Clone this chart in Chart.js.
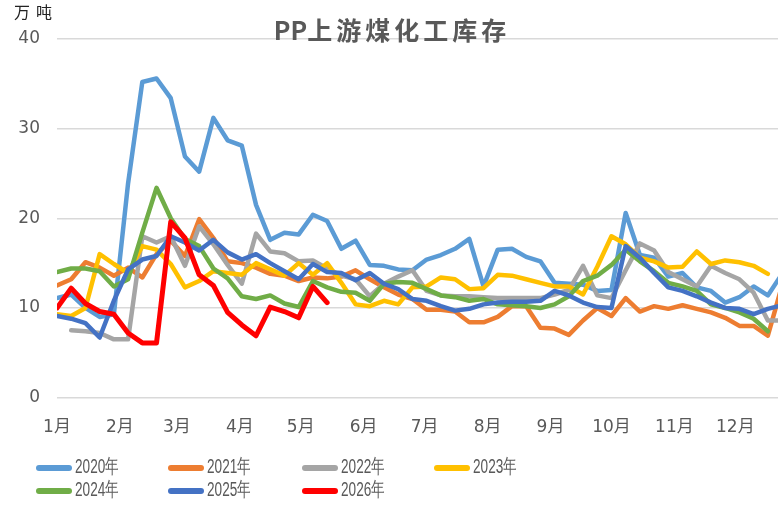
<!DOCTYPE html>
<html>
<head>
<meta charset="utf-8">
<script src="https://cdn.jsdelivr.net/npm/chart.js@4/dist/chart.umd.min.js"></script>
<style>
  html, body { margin: 0; padding: 0; background: #fff; overflow: hidden; }
  #wrap { position: relative; width: 778px; height: 505px; }
  #chart { position: absolute; left: 0; top: 0; }
  #unit { position: absolute; left: 14px; top: -1px; font: 16px "Noto Sans CJK SC", sans-serif; letter-spacing: 6px; color: #222; }
  #title { position: absolute; left: 0; width: 784px; top: 11px; text-align: center; font: bold 25px "Noto Sans CJK SC", sans-serif; color: #595959; }
  #title .cn { letter-spacing: 4px; }
  .lg { position: absolute; height: 20px; }
  .lg .swatch { position: absolute; left: 0; top: 8px; width: 36px; height: 6px; border-radius: 3px; }
  .lg .txt { position: absolute; left: 39px; top: -4px; font: 20px "Liberation Sans", sans-serif; color: #595959; transform: scaleX(0.68); transform-origin: left center; white-space: nowrap; }
</style>
</head>
<body>
<div id="wrap">
  <canvas id="chart" width="778" height="505"></canvas>
  <div id="unit">万吨</div>
  <div id="title">PP<span class="cn">上游煤化工库存</span></div>
  <div id="legend"></div>
</div>
<script>
// month tick labels and the day-of-year where each month starts
const monthLabels = ['1月', '2月', '3月', '4月', '5月', '6月', '7月', '8月', '9月', '10月', '11月', '12月'];
const monthStarts = [0, 31, 59, 90, 120, 151, 181, 212, 243, 273, 304, 334];

const seriesNames = ['2020年', '2021年', '2022年', '2023年', '2024年', '2025年', '2026年'];
const seriesColors = ['#5B9BD5', '#ED7D31', '#A5A5A5', '#FFC000', '#70AD47', '#4472C4', '#FF0000'];

// weekly inventory, 万吨 (week 1 of each year first)
const y2020 = [11.1, 11.5, 10.0, 9.0, 9.3, 23.9, 35.2, 35.6, 33.4, 26.9, 25.2, 31.2, 28.7, 28.1, 21.5, 17.6, 18.4, 18.2, 20.4, 19.7,
               16.6, 17.5, 14.8, 14.7, 14.3, 14.2, 15.4, 15.9, 16.6, 17.7, 12.4, 16.5, 16.6, 15.7, 15.2, 12.8, 12.7, 12.6, 11.9, 12.0,
               20.6, 15.9, 15.6, 13.5, 13.9, 12.3, 11.9, 10.6, 11.2, 12.4, 11.4, 13.8];
const y2021 = [12.5, 13.2, 15.1, 14.5, 13.6, 14.5, 13.4, 16.0, 17.5, 15.8, 19.9, 17.8, 15.2, 15.0, 14.5, 13.8, 13.6, 13.0, 13.4, 13.3,
               13.5, 14.2, 13.2, 12.3, 11.5, 11.0, 9.8, 9.8, 9.6, 8.4, 8.4, 9.0, 10.2, 10.2, 7.8, 7.7, 7.0, 8.6, 10.0, 9.1,
               11.1, 9.6, 10.2, 9.9, 10.3, 9.9, 9.5, 8.9, 8.0, 8.0, 6.9, 12.5];
const y2022 = [null, 7.5, 7.4, 7.2, 6.5, 6.5, 18.0, 17.3, 18.0, 14.7, 19.1, 17.1, 14.8, 12.7, 18.3, 16.3, 16.1, 15.2, 15.3, 14.4,
               13.6, 13.2, 11.3, 12.7, 13.5, 14.2, 11.9, 11.4, 11.3, 11.3, 11.2, 11.1, 11.1, 11.1, 11.1, 11.5, 12.0, 14.7, 11.4, 11.1,
               14.2, 17.2, 16.4, 14.0, 13.2, 12.4, 14.7, 13.9, 13.2, 11.7, 8.6, 8.6];
const y2023 = [9.3, 9.1, 10.0, 16.0, 14.9, 13.9, 16.9, 16.5, 14.9, 12.3, 13.0, 14.1, 13.9, 13.7, 15.0, 14.3, 13.6, 15.0, 13.7, 15.0,
               12.8, 10.4, 10.2, 10.8, 10.4, 12.3, 12.4, 13.4, 13.2, 12.1, 12.2, 13.7, 13.6, 13.2, 12.8, 12.4, 12.4, 11.5, 14.6, 18.0,
               17.1, 15.6, 15.2, 14.5, 14.6, 16.3, 14.9, 15.3, 15.1, 14.7, 13.8];
const y2024 = [14.0, 14.4, 14.4, 14.1, 12.4, 13.2, 18.4, 23.4, 20.0, 17.7, 16.9, 14.4, 13.3, 11.3, 11.0, 11.4, 10.5, 10.1, 13.0, 12.3,
               11.8, 11.7, 10.8, 12.7, 12.9, 12.8, 12.1, 11.4, 11.2, 10.8, 11.0, 10.4, 10.3, 10.2, 10.0, 10.4, 11.3, 13.0, 13.6, 14.8,
               16.5, 15.2, 14.1, 12.8, 12.4, 11.9, 10.4, 10.0, 9.5, 8.8, 7.4];
const y2025 = [9.1, 8.8, 8.3, 6.7, 10.8, 14.3, 15.4, 15.8, 18.0, 17.3, 16.4, 17.6, 16.2, 15.4, 16.0, 15.0, 14.1, 13.2, 14.9, 14.0,
               13.9, 13.1, 13.9, 12.7, 12.1, 11.0, 10.8, 10.2, 9.7, 9.9, 10.4, 10.6, 10.7, 10.7, 10.8, 11.9, 11.4, 10.6, 10.1, 10.0,
               16.9, 15.6, 13.9, 12.3, 11.9, 11.3, 10.6, 10.0, 9.9, 9.3, 9.9, 10.3];
const y2026 = [10.0, 12.2, 10.5, 9.6, 9.3, 7.2, 6.1, 6.1, 19.6, 17.8, 13.7, 12.5, 9.5, 8.1, 6.9, 10.1, 9.6, 8.9, 12.4, 10.6];

const allSeries = [y2020, y2021, y2022, y2023, y2024, y2025, y2026];

// each weekly value sits at (week index * 7) days on the date axis
function toPoints(arr) {
    return arr.map((v, i) => ({ x: i * 7, y: v }));
}

const datasets = allSeries.map((arr, idx) => ({
    label: seriesNames[idx],
    data: toPoints(arr),
    borderColor: seriesColors[idx],
    backgroundColor: seriesColors[idx],
    borderWidth: idx === 6 ? 5 : 4.5,
    pointRadius: 0,
    tension: 0,
    borderJoinStyle: 'round',
    borderCapStyle: 'round',
    spanGaps: false,
    order: 7 - idx
}));

const tickFont = { family: '"DejaVu Sans", "Noto Sans CJK SC", sans-serif', size: 17 };

new Chart(document.getElementById('chart').getContext('2d'), {
    type: 'line',
    data: { datasets },
    options: {
        responsive: false,
        animation: false,
        devicePixelRatio: 1,
        layout: { padding: { top: 39, right: 0, bottom: 55, left: 0 } },
        scales: {
            x: {
                type: 'linear',
                min: 0,
                max: 355,
                grid: { display: false },
                border: { display: false },
                afterBuildTicks: (scale) => {
                    scale.ticks = monthStarts.map(v => ({ value: v }));
                },
                ticks: {
                    autoSkip: false,
                    maxRotation: 0,
                    padding: 12,
                    color: '#595959',
                    font: tickFont,
                    callback: (value) => monthLabels[monthStarts.indexOf(value)]
                }
            },
            y: {
                min: 0,
                max: 40,
                grid: { color: '#D9D9D9', lineWidth: 1.5, drawTicks: false },
                border: { display: false },
                afterFit: (scale) => { scale.width = 57; },
                ticks: {
                    stepSize: 10,
                    padding: 17,
                    color: '#595959',
                    font: tickFont
                }
            }
        },
        plugins: {
            legend: { display: false },
            title: { display: false },
            tooltip: { enabled: false }
        }
    }
});

// legend laid out as a 4-column grid like the original
const legendBox = document.getElementById('legend');
const colX = [36, 168, 302, 434];
const rowY = [457, 480];
seriesNames.forEach((name, i) => {
    const item = document.createElement('div');
    item.className = 'lg';
    item.style.left = colX[i % 4] + 'px';
    item.style.top = rowY[Math.floor(i / 4)] + 'px';
    item.innerHTML = `<span class="swatch" style="background:${seriesColors[i]}"></span><span class="txt">${name}</span>`;
    legendBox.appendChild(item);
});
</script>
</body>
</html>
